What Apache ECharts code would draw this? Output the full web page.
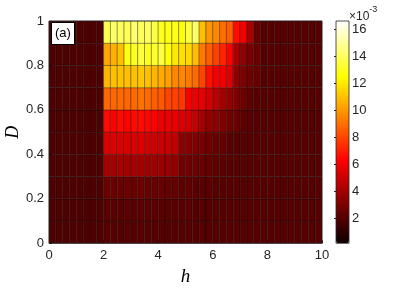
<!DOCTYPE html>
<html>
<head>
<meta charset="utf-8">
<script src="https://cdn.jsdelivr.net/npm/echarts@6/dist/echarts.min.js"></script>
<style>html,body{margin:0;padding:0;background:#fff}#c{width:399px;height:288px}</style>
</head>
<body>
<div id="c"></div>
<script>
// left edges of the cells along h and D
const hStart = [0,0.25,0.5,0.75,1,1.25,1.5,1.75,2,2.25,2.5,2.75,3,3.25,3.5,3.75,4,4.25,4.5,4.75,5,5.25,5.5,5.75,6,6.25,6.5,6.75,7,7.25,7.5,7.75,8,8.25,8.5,8.75,9,9.25,9.5,9.75];
const dStart = [0,0.1,0.2,0.3,0.4,0.5,0.6,0.7,0.8,0.9];
// cell values (x 1e-3), one array per D row, bottom to top
const row0 = [1.9,1.9,1.9,1.9,1.9,1.9,1.9,1.9, 2.1,2.1,2.1,2.1,2.1,2.1,2.1,2.1,2.1,2.1,2.1,2.1,2.1,2.1,2.1,2.1,2.1,2.1,2.1,2.1,2.1,2.1,2.1,2.1,2.1,2.1,2.1,2.1,2.1,2.1,2.1,2.1];
const row1 = [1.9,1.9,1.9,1.9,1.9,1.9,1.9,1.9, 2.2,2.2,2.2,2.2,2.2,2.2,2.2,2.2,2.2,2.2,2.2,2.2,2.2,2.1,2.1,2.1,2.1,2.1,2.1,2.1,2.1,2.1,2.1,2.1,2.1,2.1,2.1,2.1,2.1,2.1,2.1,2.1];
const row2 = [1.9,1.9,1.9,1.9,1.9,1.9,1.9,1.9, 2.6,2.6,2.6,2.6,2.6,2.6,2.5,2.5,2.5,2.5,2.4,2.3,2.3,2.2,2.2,2.2,2.1,2.1,2.1,2.1,2.1,2.1,2.1,2.1,2.1,2.1,2.1,2.1,2.1,2.1,2.1,2.1];
const row3 = [1.9,1.9,1.9,1.9,1.9,1.9,1.9,1.9, 4.1,4.0,4.1,4.0,4.1,4.0,3.9,3.9,3.8,3.7,3.6,2.8,2.7,2.6,2.5,2.4,2.3,2.2,2.1,2.1,2.1,2.1,2.1,2.1,2.1,2.1,2.1,2.1,2.1,2.1,2.1,2.1];
const row4 = [1.9,1.9,1.9,1.9,1.9,1.9,1.9,1.9, 5.5,5.5,5.4,5.5,5.4,5.5,5.3,5.1,5.0,5.0,4.8,3.4,3.3,3.1,2.9,2.7,2.5,2.4,2.2,2.1,2.1,2.1,2.1,2.1,2.1,2.1,2.1,2.1,2.1,2.1,2.1,2.1];
const row5 = [1.9,1.9,1.9,1.9,1.9,1.9,1.9,1.9, 6.6,6.35,6.6,6.4,6.6,6.6,6.5,6.35,5.9,5.9,5.8,5.5,5.2,4.8,4.0,3.6,3.4,3.1,2.8,2.6,2.3,2.2,2.1,2.1,2.1,2.1,2.1,2.1,2.1,2.1,2.1,2.1];
const row6 = [1.9,1.9,1.9,1.9,1.9,1.9,1.9,1.9, 8.9,8.8,8.9,8.8,8.9,9.1,8.9,8.6,8.5,8.0,7.9,7.7,6.2,5.9,5.8,5.2,4.6,4.0,3.6,3.1,2.7,2.3,2.1,2.1,2.1,2.1,2.1,2.1,2.1,2.1,2.1,2.1];
const row7 = [1.9,1.9,1.9,1.9,1.9,1.9,1.9,1.9, 10.8,11.0,11.0,11.0,11.0,11.2,11.0,10.7,10.5,10.2,9.6,9.6,9.3,8.9,8.0,6.7,6.2,6.0,5.5,3.4,3.0,2.7,2.5,2.1,2.1,2.1,2.1,2.1,2.1,2.1,2.1,2.1];
const row8 = [1.9,1.9,1.9,1.9,1.9,1.9,1.9,1.9, 10.4,10.6,11.0,12.8,13.0,13.5,13.0,13.2,13.6,12.6,12.0,11.8,11.6,10.9,9.2,8.6,7.9,7.2,6.4,4.1,3.4,3.0,2.6,2.1,2.1,2.1,2.1,2.1,2.1,2.1,2.1,2.1];
const row9 = [1.9,1.9,1.9,1.9,1.9,1.9,1.9,1.9, 13.8,14.2,14.0,13.9,14.3,14.0,14.1,13.6,13.0,12.8,12.9,12.7,13.5,14.2,11.0,10.0,9.7,9.0,8.6,6.6,6.1,4.2,2.5,2.1,2.1,2.1,2.1,2.1,2.1,2.1,2.1,2.1];
const rows = [row0,row1,row2,row3,row4,row5,row6,row7,row8,row9];
const xTicks = [0,2,4,6,8,10];
const yTicks = [0,0.2,0.4,0.6,0.8,1];
const cbTicks = [2,4,6,8,10,12,14,16];
const cMin = 0.17, cMax = 16.64;
const cellW = 0.25, cellH = 0.1;

const data = [];
rows.forEach((r, i) => r.forEach((v, j) => data.push([hStart[j], dStart[i], v])));

const hot = ['#0b0000','#5c0000','#ae0000','#ff0000','#ff5500','#ffaa00','#ffff00','#ffff80','#ffffff'];
const axCol = '#262626';
const chart = echarts.init(document.getElementById('c'), null, {renderer:'canvas'});
chart.setOption({
  animation: false,
  title: {
    text: '(a)', left: 51, top: 22, padding: [5, 4, 5, 4],
    backgroundColor: '#fff', borderColor: '#000', borderWidth: 1,
    textStyle: {fontSize: 13, fontWeight: 'normal', color: '#000', fontFamily: 'Liberation Sans'}
  },
  grid: [
    {left: 49, right: 77, top: 21, bottom: 44.7, show: true, z: 10, borderColor: axCol, borderWidth: 0.8, backgroundColor: 'transparent', containLabel: false, outerBoundsMode: 'none'},
    {left: 336, width: 13, top: 21, bottom: 44.7, show: true, z: 10, borderColor: axCol, borderWidth: 0.8, backgroundColor: 'transparent', containLabel: false, outerBoundsMode: 'none'}
  ],
  xAxis: [
    {type: 'value', gridIndex: 0, min: 0, max: 10, interval: 2,
     name: 'h', nameLocation: 'middle', nameGap: 15,
     nameTextStyle: {fontFamily: 'Liberation Serif', fontStyle: 'italic', fontSize: 19, color: '#000'},
     axisLine: {show: false}, axisTick: {inside: true, length: 3, lineStyle: {color: axCol}},
     axisLabel: {fontSize: 13, color: axCol, margin: 6, fontFamily: 'Liberation Sans'}, splitLine: {show: false}},
    {type: 'value', gridIndex: 1, min: 0, max: 1, show: false}
  ],
  yAxis: [
    {type: 'value', gridIndex: 0, min: 0, max: 1, interval: 0.2,
     name: 'D', nameLocation: 'middle', nameGap: 27, nameRotate: 90, nameMoveOverlap: false,
     nameTextStyle: {fontFamily: 'Liberation Serif', fontStyle: 'italic', fontSize: 18, color: '#000'},
     axisLine: {show: false}, axisTick: {inside: true, length: 3, lineStyle: {color: axCol}},
     axisLabel: {fontSize: 13, color: axCol, margin: 5, fontFamily: 'Liberation Sans'}, splitLine: {show: false}},
    {type: 'value', gridIndex: 1, min: cMin, max: cMax, position: 'right', z: 10,
     axisLine: {show: false},
     axisTick: {show: true, inside: true, length: 2, customValues: cbTicks, lineStyle: {color: axCol}},
     axisLabel: {show: true, customValues: cbTicks, fontSize: 13, color: axCol, margin: 3, fontFamily: 'Liberation Sans'},
     splitLine: {show: false}}
  ],
  visualMap: {
    type: 'continuous', min: cMin, max: cMax, dimension: 2, seriesIndex: 0,
    left: 336, top: 21, itemWidth: 13, itemHeight: 222.3, padding: 0,
    calculable: false, showLabel: false, text: null, hoverLink: false,
    inRange: {color: hot}
  },
  graphic: [{
    type: 'text', left: 349, top: 5, z: 20,
    style: {
      text: '{a|×10}{b|-3}',
      rich: {
        a: {fontSize: 12, fill: axCol, fontFamily: 'Liberation Sans', verticalAlign: 'bottom', padding: [6,0,0,0]},
        b: {fontSize: 9, fill: axCol, fontFamily: 'Liberation Sans', verticalAlign: 'top', padding: [0,0,6,0]}
      }
    }
  }],
  series: [{
    type: 'custom', coordinateSystem: 'cartesian2d', xAxisIndex: 0, yAxisIndex: 0,
    dimensions: ['h', 'D', 'v'], encode: {x: 0, y: 1},
    data: data,
    renderItem: function (params, api) {
      const p0 = api.coord([api.value(0), api.value(1)]);
      const p1 = api.coord([api.value(0) + cellW, api.value(1) + cellH]);
      return {
        type: 'rect',
        shape: {x: p0[0], y: p1[1], width: p1[0] - p0[0], height: p0[1] - p1[1]},
        style: {fill: api.visual('color'), stroke: 'rgba(0,0,0,0.55)', lineWidth: 0.6}
      };
    }
  }]
});
</script>
</body>
</html>
